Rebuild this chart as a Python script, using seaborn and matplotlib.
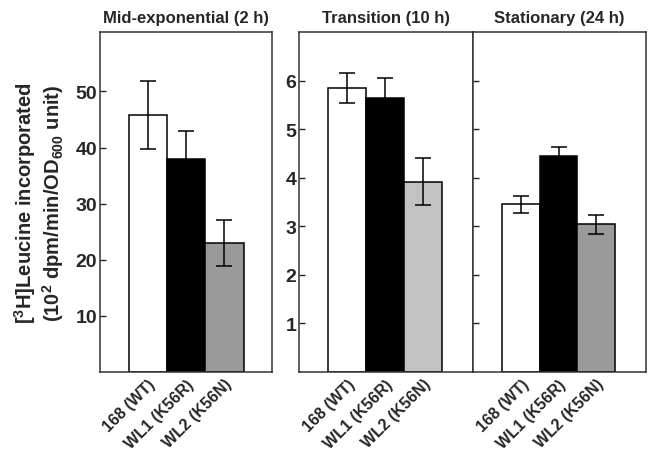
import matplotlib
matplotlib.use("Agg")
import matplotlib.pyplot as plt
import seaborn as sns
import pandas as pd

strains = ["168 (WT)", "WL1 (K56R)", "WL2 (K56N)"]

mid_mean = [45.8, 38.0, 23.0]
mid_err = [6.0, 5.0, 4.1]

trans_mean = [5.85, 5.64, 3.92]
trans_err = [0.31, 0.42, 0.49]

stat_mean = [3.45, 4.45, 3.04]
stat_err = [0.18, 0.18, 0.19]

titles = ["Mid-exponential (2 h)", "Transition (10 h)", "Stationary (24 h)"]

sns.set_theme(style="ticks")
plt.rcParams["font.family"] = ["Liberation Sans", "DejaVu Sans"]
plt.rcParams["font.weight"] = "bold"
plt.rcParams["mathtext.fontset"] = "custom"
plt.rcParams["mathtext.rm"] = "Liberation Sans:bold"
plt.rcParams["mathtext.bf"] = "Liberation Sans:bold"
plt.rcParams["mathtext.default"] = "rm"

fig = plt.figure(figsize=(6.52, 4.56), dpi=100)
W, H = 652, 456


def px_axes(left, top, right, bottom):
    return fig.add_axes([left / W, 1 - bottom / H, (right - left) / W, (bottom - top) / H])


ax1 = px_axes(100, 33, 272, 373)
ax2 = px_axes(299, 33, 473, 373)
ax3 = px_axes(473, 33, 646, 373)

panels = [
    (ax1, mid_mean, mid_err, ["white", "black", "#9a9a9a"], (0, 60.6), [10, 20, 30, 40, 50], (-1.25, 3.24)),
    (ax2, trans_mean, trans_err, ["white", "black", "#c2c2c2"], (0, 7.0), [1, 2, 3, 4, 5, 6], (-1.27, 3.31)),
    (ax3, stat_mean, stat_err, ["white", "black", "#9a9a9a"], (0, 7.0), [1, 2, 3, 4, 5, 6], (-1.28, 3.33)),
]

for i, (ax, means, errs, colors, ylim, yticks, xlim) in enumerate(panels):
    df = pd.DataFrame({"strain": strains, "value": means, "err": errs})
    sns.barplot(data=df, x="strain", y="value", hue="strain", palette=colors,
                width=1.0, edgecolor="black", linewidth=1.1, errorbar=None,
                legend=False, ax=ax, saturation=1)
    ax.errorbar(range(len(strains)), df["value"], yerr=df["err"], fmt="none",
                ecolor="black", elinewidth=1.1, capsize=5.5, capthick=1.1)
    ax.set_ylim(*ylim)
    ax.set_xlim(*xlim)
    ax.set_yticks(yticks)
    ax.tick_params(axis="y", direction="in", length=4, width=1, pad=2, labelsize=14)
    ax.tick_params(axis="x", length=0, pad=3)
    ax.set_xticks(range(len(strains)))
    ax.set_xticklabels(strains, rotation=45, ha="right", rotation_mode="anchor",
                       fontsize=11.5, fontweight="bold")
    for lab in ax.get_yticklabels():
        lab.set_fontweight("bold")
    if i == 2:
        ax.set_yticklabels([])
    ax.set_xlabel("")
    ax.set_ylabel("")
    for s in ax.spines.values():
        s.set_visible(True)
        s.set_linewidth(1.1)
        s.set_color("#333333")
    ax.set_title(titles[i], fontsize=12, fontweight="bold", pad=7)

ax1.set_ylabel("[$^3$H]Leucine incorporated\n(10$^2$ dpm/min/OD$_{600}$ unit)",
               fontsize=14.5, fontweight="bold", labelpad=7, linespacing=1.1)

fig.savefig("out.png", dpi=100)
